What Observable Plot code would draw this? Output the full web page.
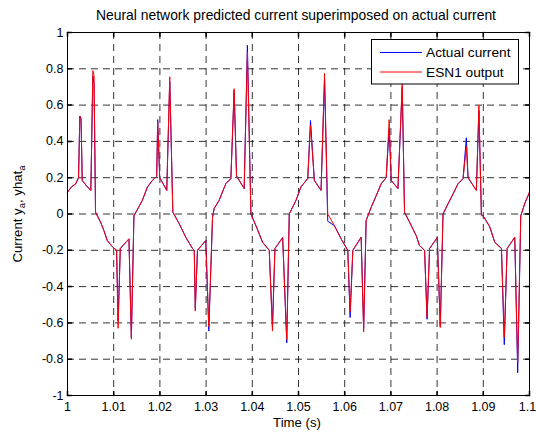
<!DOCTYPE html>
<html>
<head>
<meta charset="utf-8">
<script src="https://cdn.jsdelivr.net/npm/d3@7"></script>
<script src="https://cdn.jsdelivr.net/npm/@observablehq/plot@0.6"></script>
<style>
  html, body { margin: 0; padding: 0; background: #fff; }
  svg { display: block; }
</style>
</head>
<body>
<div id="chart"></div>
<script>
const titleText = "Neural network predicted current superimposed on actual current";
const xLabel = "Time (s)";
const seriesNames = ["Actual current", "ESN1 output"];
const seriesColors = ["#0000ff", "#ff0000"];

const xTicks = [1, 1.01, 1.02, 1.03, 1.04, 1.05, 1.06, 1.07, 1.08, 1.09, 1.1];
const xTickLabels = ["1", "1.01", "1.02", "1.03", "1.04", "1.05", "1.06", "1.07", "1.08", "1.09", "1.1"];
const yTicks = [1, 0.8, 0.6, 0.4, 0.2, 0, -0.2, -0.4, -0.6, -0.8, -1];
const yTickLabels = ["1", "0.8", "0.6", "0.4", "0.2", "0", "-0.2", "-0.4", "-0.6", "-0.8", "-1"];

const time = [
  1.00000, 1.00087, 1.00174, 1.00239, 1.00267, 1.00293, 1.00319, 1.00412, 1.00505, 1.00549, 1.00575,
  1.00607, 1.00716, 1.00787, 1.00861, 1.00970, 1.01063, 1.01095, 1.01143, 1.01330, 1.01382, 1.01438,
  1.01620, 1.01729, 1.01837, 1.01931, 1.01952, 1.01996, 1.02148, 1.02213, 1.02280,
  1.02419, 1.02560, 1.02705, 1.02744, 1.02766, 1.02813, 1.02993, 1.03059, 1.03139,
  1.03174, 1.03282, 1.03427, 1.03536, 1.03607, 1.03659, 1.03824, 1.03894, 1.03970,
  1.04078, 1.04223, 1.04367, 1.04436, 1.04490, 1.04657, 1.04746, 1.04800,
  1.04946, 1.05054, 1.05200, 1.05260, 1.05343, 1.05488, 1.05564, 1.05633,
  1.05777, 1.05922, 1.06067, 1.06117, 1.06176, 1.06356, 1.06410, 1.06464,
  1.06573, 1.06681, 1.06790, 1.06898, 1.06963, 1.07007, 1.07152, 1.07245, 1.07295,
  1.07404, 1.07549, 1.07620, 1.07729, 1.07783, 1.07837, 1.08004, 1.08069, 1.08128,
  1.08236, 1.08345, 1.08453, 1.08562, 1.08633, 1.08670, 1.08850, 1.08905, 1.08959,
  1.08996, 1.09139, 1.09248, 1.09393, 1.09454, 1.09516, 1.09681, 1.09744, 1.09811, 1.09900, 1.10000
];

const actual = [
  0.12, 0.15, 0.165, 0.20, 0.54, 0.52, 0.185, 0.155, 0.13, 0.76, 0.72,
  0.01, -0.045, -0.09, -0.146, -0.18, -0.20, -0.59, -0.19, -0.137, -0.68, -0.01,
  0.075, 0.148, 0.185, 0.207, 0.52, 0.20, 0.13, 0.73, 0.01,
  -0.054, -0.128, -0.19, -0.20, -0.52, -0.20, -0.146, -0.645, -0.02,
  0.03, 0.075, 0.167, 0.195, 0.68, 0.21, 0.14, 0.93, 0.0,
  -0.064, -0.156, -0.20, -0.62, -0.19, -0.13, -0.71, 0.0,
  0.075, 0.15, 0.195, 0.515, 0.185, 0.13, 0.74, -0.04,
  -0.064, -0.137, -0.20, -0.57, -0.20, -0.128, -0.63, -0.036,
  0.037, 0.10, 0.167, 0.20, 0.47, 0.185, 0.14, 0.70, 0.01,
  -0.045, -0.12, -0.174, -0.20, -0.58, -0.19, -0.13, -0.62, 0.0,
  0.056, 0.11, 0.167, 0.195, 0.42, 0.20, 0.13, 0.57, 0.0,
  -0.01, -0.07, -0.156, -0.19, -0.72, -0.19, -0.128, -0.875, -0.01, 0.06, 0.12
];

const esn = [
  0.12, 0.15, 0.165, 0.20, 0.54, 0.53, 0.185, 0.155, 0.13, 0.79, 0.76,
  0.01, -0.045, -0.09, -0.146, -0.18, -0.20, -0.63, -0.19, -0.137, -0.69, -0.01,
  0.075, 0.148, 0.185, 0.207, 0.51, 0.20, 0.13, 0.756, 0.01,
  -0.054, -0.128, -0.19, -0.20, -0.535, -0.20, -0.146, -0.62, -0.02,
  0.03, 0.075, 0.167, 0.195, 0.69, 0.21, 0.14, 0.89, 0.0,
  -0.064, -0.156, -0.20, -0.645, -0.19, -0.13, -0.69, 0.0,
  0.075, 0.15, 0.195, 0.49, 0.185, 0.13, 0.775, 0.0,
  -0.064, -0.137, -0.20, -0.54, -0.20, -0.128, -0.65, -0.036,
  0.037, 0.10, 0.167, 0.20, 0.52, 0.185, 0.14, 0.72, 0.01,
  -0.045, -0.12, -0.174, -0.20, -0.57, -0.19, -0.13, -0.625, 0.0,
  0.056, 0.11, 0.167, 0.195, 0.37, 0.20, 0.13, 0.60, -0.01,
  -0.01, -0.07, -0.156, -0.19, -0.68, -0.19, -0.128, -0.82, -0.01, 0.06, 0.12
];

const rows = time.map((t, i) => ({t, actual: actual[i], esn: esn[i]}));

const FONT = "'Liberation Sans', Arial, Helvetica, sans-serif";
const tickShape = {draw(ctx, l) { ctx.moveTo(0, 0); ctx.lineTo(0, -l); }};
const gridStyle = {stroke: "#000", strokeOpacity: 0.8, strokeWidth: 1, strokeDasharray: "7,5"};
const innerXTicks = xTicks.slice(0, -1);
const lastXTick = xTicks.slice(-1);

const chart = Plot.plot({
  width: 536,
  height: 433,
  marginLeft: 67,
  marginRight: 7,
  marginTop: 32,
  marginBottom: 38,
  style: {fontFamily: FONT, background: "#fff", color: "#000"},
  x: {domain: [1, 1.1]},
  y: {domain: [-1, 1]},
  marks: [
    Plot.gridX(xTicks, gridStyle),
    Plot.gridY(yTicks, gridStyle),
    Plot.line(rows, {x: "t", y: "actual", stroke: seriesColors[0], strokeWidth: 1}),
    Plot.line(rows, {x: "t", y: "esn", stroke: seriesColors[1], strokeWidth: 1}),
    Plot.vector(xTicks, {x: d => d, frameAnchor: "bottom", rotate: 0, length: 4, anchor: "start", shape: tickShape, stroke: "#000"}),
    Plot.vector(xTicks, {x: d => d, frameAnchor: "top", rotate: 180, length: 4, anchor: "start", shape: tickShape, stroke: "#000"}),
    Plot.vector(yTicks, {y: d => d, frameAnchor: "left", rotate: 90, length: 4, anchor: "start", shape: tickShape, stroke: "#000"}),
    Plot.vector(yTicks, {y: d => d, frameAnchor: "right", rotate: -90, length: 4, anchor: "start", shape: tickShape, stroke: "#000"}),
    Plot.frame({stroke: "#000", strokeWidth: 1}),
    Plot.axisX(innerXTicks, {anchor: "bottom", tickSize: 0, tickPadding: 7, fontSize: 12.5, label: null,
      tickFormat: d => xTickLabels[xTicks.indexOf(d)]}),
    Plot.axisX(lastXTick, {anchor: "bottom", tickSize: 0, tickPadding: 7, fontSize: 12.5, label: null, dx: -2,
      tickFormat: d => xTickLabels[xTicks.indexOf(d)]}),
    Plot.axisY(yTicks, {anchor: "left", tickSize: 0, tickPadding: 4, fontSize: 12.5, label: null,
      tickFormat: d => yTickLabels[yTicks.indexOf(d)]})
  ]
});

document.getElementById("chart").appendChild(chart);

const svg = d3.select(chart);
// Title
svg.append("text")
  .attr("x", 296).attr("y", 20)
  .attr("text-anchor", "middle")
  .attr("font-family", FONT).attr("font-size", 13.9).attr("fill", "#000")
  .text(titleText);
// X label
svg.append("text")
  .attr("x", 297).attr("y", 427)
  .attr("text-anchor", "middle")
  .attr("font-family", FONT).attr("font-size", 13.2).attr("fill", "#000")
  .text(xLabel);
// Y label with subscripts
const yl = svg.append("text")
  .attr("transform", "translate(22,214) rotate(-90)")
  .attr("text-anchor", "middle")
  .attr("font-family", FONT).attr("font-size", 13.2).attr("fill", "#000");
yl.append("tspan").text("Current y");
yl.append("tspan").attr("dy", 3).attr("font-size", 9.5).text("a");
yl.append("tspan").attr("dy", -3).text(", yhat");
yl.append("tspan").attr("dy", 3).attr("font-size", 9.5).text("a");

// Legend
const lg = svg.append("g").attr("font-family", FONT).attr("font-size", 13.7).attr("text-anchor", "start");
lg.append("rect").attr("x", 371.5).attr("y", 39.5).attr("width", 147).attr("height", 44.5)
  .attr("fill", "#fff").attr("stroke", "#000").attr("stroke-width", 1);
seriesNames.forEach((name, i) => {
  const cy = 52.5 + i * 19.5;
  lg.append("line").attr("x1", 380).attr("x2", 422).attr("y1", cy).attr("y2", cy)
    .attr("stroke", seriesColors[i]).attr("stroke-width", 1);
  lg.append("text").attr("x", 426).attr("y", cy + 4.8).attr("text-anchor", "start").attr("fill", "#000").text(name);
});
</script>
</body>
</html>
